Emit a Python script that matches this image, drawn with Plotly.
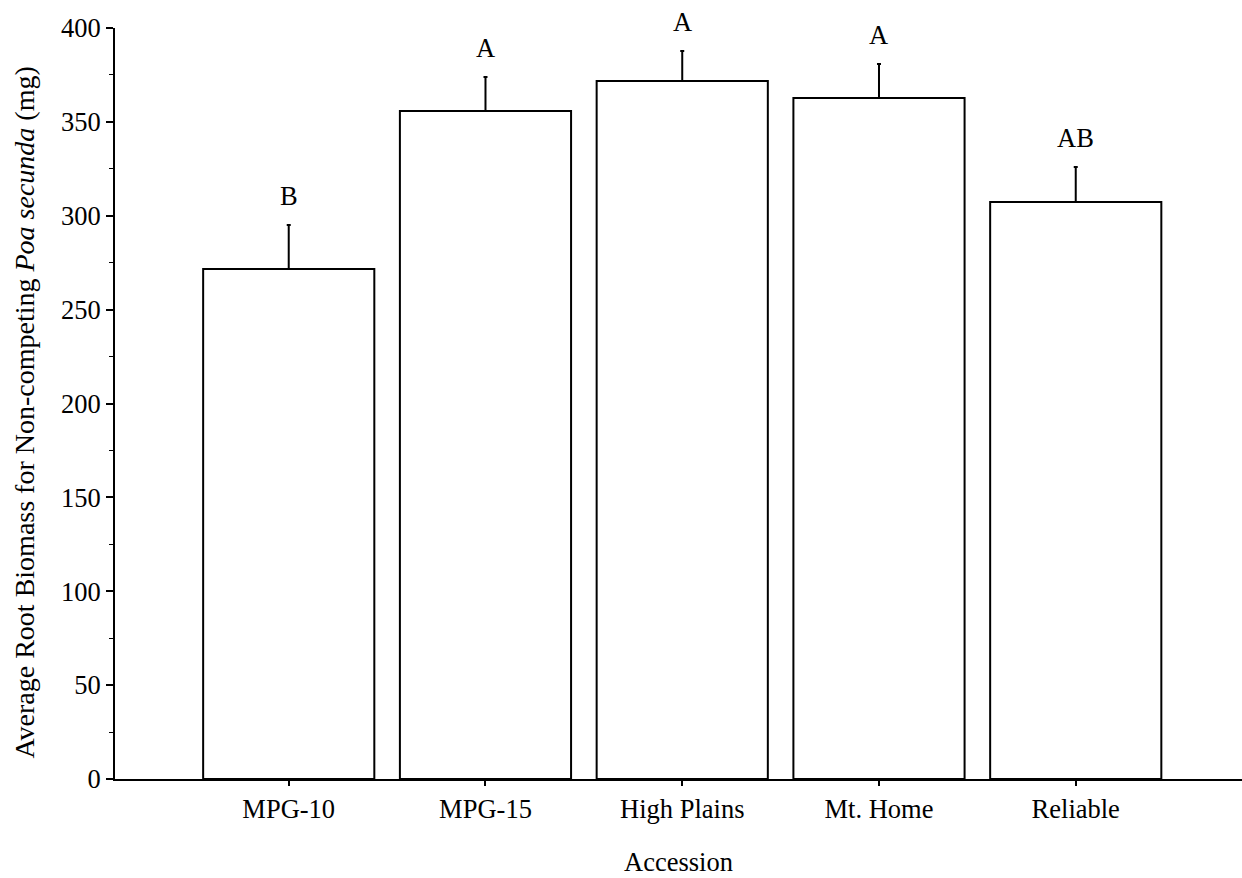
import plotly.graph_objects as go

categories = ["MPG-10", "MPG-15", "High Plains", "Mt. Home", "Reliable"]
means = [271.6, 355.8, 371.8, 362.7, 307.3]
errors = [23.5, 18.1, 16.0, 18.1, 18.6]
letters = ["B", "A", "A", "A", "AB"]
y_ticks = [0, 50, 100, 150, 200, 250, 300, 350, 400]

FONT = "Liberation Serif, Times New Roman, serif"
FS = 26.5

fig = go.Figure()
fig.add_trace(go.Bar(
    x=list(range(len(categories))),
    y=means,
    width=0.87,
    marker=dict(color="white", line=dict(color="black", width=2)),
    error_y=dict(type="data", array=errors, arrayminus=[0]*len(errors),
                 symmetric=False, color="black", thickness=2, width=2),
    showlegend=False,
))

for i, (m, e, l) in enumerate(zip(means, errors, letters)):
    fig.add_annotation(x=i, y=m + e, text=l, showarrow=False,
                       yanchor="bottom", yshift=12,
                       font=dict(family=FONT, size=FS, color="black"))

# y-axis title as a rotated annotation for precise placement
fig.add_annotation(xref="paper", yref="paper", x=-0.0807, y=0.488,
                   xanchor="center", yanchor="middle", textangle=-90, showarrow=False,
                   text="Average Root Biomass for Non-competing <i>Poa secunda</i> (mg)",
                   font=dict(family=FONT, size=28, color="black"))

fig.update_layout(
    width=1242, height=878,
    paper_bgcolor="white", plot_bgcolor="white",
    margin=dict(l=115, r=0, t=28, b=99),
    font=dict(family=FONT, size=FS, color="black"),
    xaxis=dict(
        tickmode="array", tickvals=list(range(len(categories))), ticktext=categories,
        range=[-0.883, 4.845], showline=True, linecolor="black", linewidth=2,
        ticks="outside", ticklen=5, tickwidth=2, tickcolor="black",
        showgrid=False, zeroline=False,
        title=dict(text="Accession", font=dict(family=FONT, size=FS), standoff=30),
        tickfont=dict(family=FONT, size=FS),
    ),
    yaxis=dict(
        range=[0, 400], tickvals=y_ticks, showline=True, linecolor="black", linewidth=2,
        ticks="outside", ticklen=7, tickwidth=2, tickcolor="black",
        minor=dict(dtick=25, ticks="outside", ticklen=4, tickwidth=1, tickcolor="black"),
        showgrid=False, zeroline=False,
        tickfont=dict(family=FONT, size=FS),
    ),
)

fig.write_html("out.html", config={"displayModeBar": False},
               post_script="document.body.style.margin='0';document.body.style.overflow='hidden';")
